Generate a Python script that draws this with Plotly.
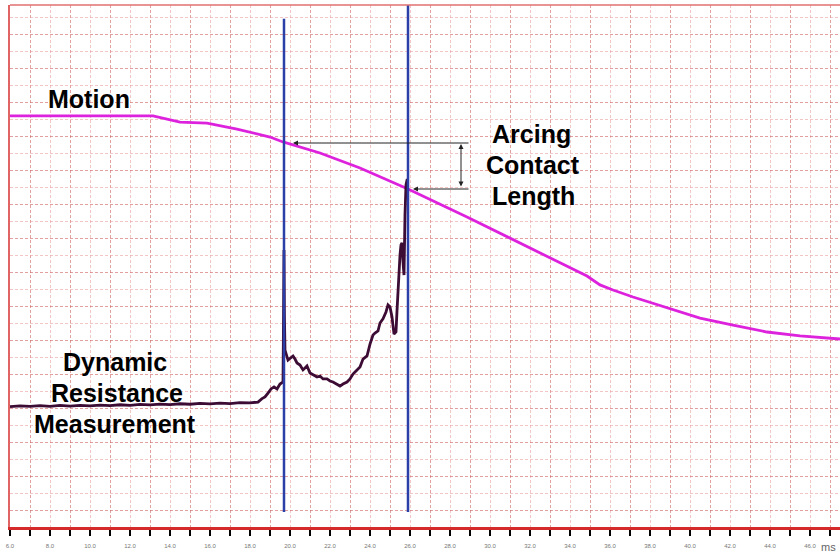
import plotly.graph_objects as go

# ---------------- data (x in ms, y in grid units) ----------------
motion_t = [6.0, 12.0, 13.15, 14.5, 15.85, 17.35, 19.0, 19.65, 21.5, 23.5, 25.9,
            28.85, 32.15, 34.85, 35.5, 36.15, 37.15, 38.85, 40.5, 42.15, 43.85, 45.5, 47.5]
motion_v = [24.18, 24.21, 24.18, 23.82, 23.76, 23.41, 22.94, 22.65, 22.0, 21.12, 19.88,
            18.24, 16.35, 14.76, 14.24, 13.94, 13.53, 12.88, 12.29, 11.88, 11.47, 11.24, 11.06]

res_t = [6.0, 6.5, 7.0, 7.5, 8.0, 8.5, 9.0, 9.5, 10.0, 10.5, 11.0, 11.5, 12.0, 12.5,
         13.0, 13.5, 14.0, 14.5, 15.0, 15.5, 16.0, 16.5, 17.0, 17.5, 18.0, 18.4,
         18.6, 18.75, 18.9, 19.05, 19.2, 19.35, 19.5, 19.65, 19.67, 19.7, 19.72, 19.75,
         19.9, 20.0, 20.15, 20.25, 20.35, 20.5, 20.65, 20.75, 20.85, 21.0, 21.15, 21.35,
         21.5, 21.65, 21.85, 22.0, 22.15, 22.35, 22.5, 22.65, 22.85, 23.0, 23.15, 23.35,
         23.5, 23.65, 23.85, 24.0, 24.15, 24.25, 24.4, 24.5, 24.65, 24.8, 24.9, 25.0,
         25.1, 25.2, 25.3, 25.35, 25.4, 25.45, 25.5, 25.55, 25.6, 25.65, 25.7, 25.75,
         25.8, 25.85, 25.9]
res_v = [7.08, 7.13, 7.09, 7.14, 7.10, 7.15, 7.11, 7.16, 7.12, 7.17, 7.14, 7.19, 7.16, 7.21,
         7.18, 7.23, 7.20, 7.25, 7.22, 7.27, 7.24, 7.29, 7.26, 7.31, 7.30, 7.35,
         7.55, 7.65, 7.88, 8.12, 8.24, 8.12, 8.41, 8.53, 11.29, 16.29, 12.47, 10.41,
         9.82, 9.94, 10.06, 9.88, 9.65, 9.53, 9.24, 9.35, 9.47, 9.06, 8.94, 8.82,
         8.88, 8.71, 8.71, 8.59, 8.53, 8.41, 8.29, 8.41, 8.53, 8.71, 9.0, 9.24,
         9.41, 9.88, 10.06, 10.76, 11.29, 11.41, 11.53, 12.0, 12.24, 12.65, 13.06, 12.94,
         12.35, 11.35, 11.47, 12.71, 13.94, 15.0, 16.0, 16.59, 16.71, 15.59, 14.82, 18.35,
         20.12, 20.41, 20.41]

blue_t = [19.7, 25.9]
blue_bottom = [0.88, 0.88]
blue_top = [29.9, 31.2]

x_tick_start, x_tick_step = 6.0, 2.0
x_range = [6.0, 47.5]
y_range = [0.0, 30.706]

# ---------------- figure ----------------
fig = go.Figure()

fig.add_trace(go.Scatter(x=motion_t, y=motion_v, mode="lines",
                         line=dict(color="#dd22dd", width=2.8), hoverinfo="skip"))
fig.add_trace(go.Scatter(x=res_t, y=res_v, mode="lines",
                         line=dict(color="#3c0c35", width=2.8), hoverinfo="skip"))
for t, y0, y1 in zip(blue_t, blue_bottom, blue_top):
    fig.add_trace(go.Scatter(x=[t, t], y=[y0, y1], mode="lines", cliponaxis=False,
                             line=dict(color="#2a40a8", width=2.5), hoverinfo="skip"))

light_grid = "rgba(235,160,160,0.6)"
dark_grid = "rgba(205,95,95,0.6)"

fig.update_xaxes(range=x_range, tickmode="linear", tick0=x_tick_start, dtick=x_tick_step,
                 tickformat=".1f", ticks="outside", ticklen=6, tickwidth=1.5, tickcolor="black",
                 tickfont=dict(size=6, color="#777", family="Liberation Sans, Arial"),
                 ticklabelstandoff=5, automargin=False,
                 showgrid=True, gridcolor=light_grid, gridwidth=1, griddash="3px,2px",
                 minor=dict(dtick=1, tick0=x_tick_start, ticks="outside", ticklen=6, tickwidth=1.5,
                            tickcolor="black", showgrid=True, gridcolor=dark_grid, gridwidth=1,
                            griddash="3px,2px"),
                 showline=True, linecolor="#d42a2a", linewidth=2.5, zeroline=False)
fig.update_yaxes(range=y_range, tickmode="linear", tick0=1, dtick=2, showticklabels=False,
                 ticks="", automargin=False,
                 showgrid=True, gridcolor=dark_grid, gridwidth=1, griddash="3px,2px",
                 minor=dict(dtick=1, tick0=0, showgrid=True, gridcolor=light_grid, gridwidth=1,
                            griddash="3px,2px"),
                 showline=True, linecolor="#e06464", linewidth=1.6, zeroline=False)

# top border
fig.add_shape(type="line", xref="paper", yref="paper", x0=0, x1=1, y0=1, y1=1,
              line=dict(color="#e07070", width=1.5))


def px2t(px):
    return 6 + (px - 10) / 20.0


def py2v(py):
    return (527 - py) / 17.0


label_font = dict(size=25, color="black", family="Liberation Sans, Arial", weight="bold")
labels = [("Motion", 89, 99), ("Arcing", 531, 134), ("Contact", 533, 165), ("Length", 533, 196),
          ("Dynamic", 115, 362), ("Resistance", 117, 393), ("Measurement", 115, 424)]
for txt, px, py in labels:
    fig.add_annotation(x=px2t(px), y=py2v(py), xref="x", yref="y", text=txt, showarrow=False,
                       font=label_font, xanchor="center", yanchor="middle")

arrow_col = "#222"
# horizontal arrows to the motion curve
fig.add_annotation(x=px2t(293), y=py2v(143), ax=px2t(470), ay=py2v(143), xref="x", yref="y",
                   axref="x", ayref="y", text="", showarrow=True, arrowhead=2, arrowsize=1,
                   arrowwidth=1, arrowcolor=arrow_col)
fig.add_annotation(x=px2t(413), y=py2v(189), ax=px2t(470), ay=py2v(189), xref="x", yref="y",
                   axref="x", ayref="y", text="", showarrow=True, arrowhead=2, arrowsize=1,
                   arrowwidth=1, arrowcolor=arrow_col)
# vertical double arrow
fig.add_annotation(x=px2t(461), y=py2v(144), ax=px2t(461), ay=py2v(188), xref="x", yref="y",
                   axref="x", ayref="y", text="", showarrow=True, arrowhead=2, startarrowhead=2,
                   arrowside="end+start", arrowsize=1, startarrowsize=1, arrowwidth=1,
                   arrowcolor=arrow_col)

fig.add_annotation(x=(828 - 10) / 830, y=(527 - 547) / 522, xref="paper", yref="paper", text="ms",
                   showarrow=False, font=dict(size=11, color="#666", family="Liberation Sans, Arial"),
                   xanchor="center", yanchor="middle")

fig.update_layout(width=840, height=552, margin=dict(l=10, r=0, t=5, b=25, autoexpand=False),
                  paper_bgcolor="white", plot_bgcolor="white", showlegend=False)

fig.write_html("out.html", config={"displayModeBar": False},
               post_script="document.body.style.margin='0';document.body.style.overflow='hidden';")
